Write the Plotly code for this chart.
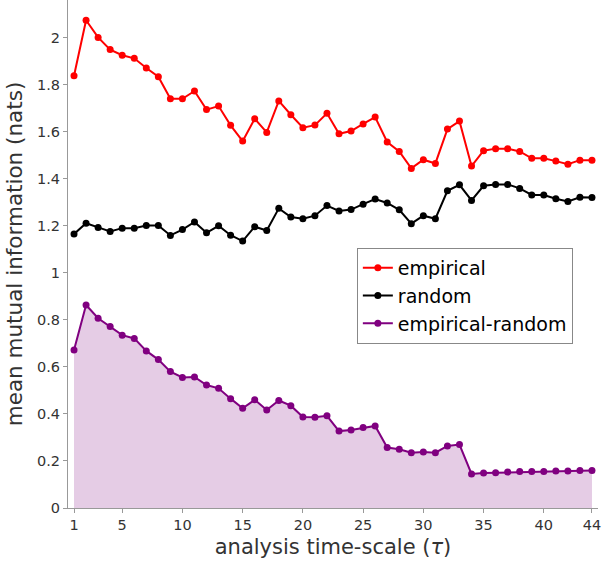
import plotly.graph_objects as go

tau = list(range(1, 45))

empirical = [1.838, 2.074, 2.001, 1.949, 1.925, 1.912, 1.871, 1.834, 1.740, 1.740,
             1.773, 1.694, 1.709, 1.627, 1.560, 1.655, 1.597, 1.731, 1.672, 1.617,
             1.628, 1.678, 1.591, 1.603, 1.633, 1.662, 1.556, 1.516, 1.444, 1.481,
             1.465, 1.611, 1.645, 1.454, 1.519, 1.528, 1.528, 1.516, 1.487, 1.487,
             1.475, 1.462, 1.479, 1.479]

random_mi = [1.165, 1.211, 1.193, 1.176, 1.190, 1.190, 1.201, 1.201, 1.159, 1.184,
             1.216, 1.170, 1.200, 1.160, 1.135, 1.196, 1.180, 1.274, 1.237, 1.230,
             1.243, 1.286, 1.263, 1.269, 1.292, 1.314, 1.297, 1.268, 1.209, 1.243,
             1.230, 1.349, 1.374, 1.308, 1.370, 1.376, 1.376, 1.359, 1.331, 1.331,
             1.315, 1.303, 1.321, 1.320]

emp_minus_rand = [0.672, 0.863, 0.807, 0.772, 0.735, 0.721, 0.668, 0.631, 0.580, 0.555,
                  0.557, 0.523, 0.509, 0.465, 0.424, 0.460, 0.417, 0.457, 0.435, 0.387,
                  0.386, 0.392, 0.327, 0.332, 0.342, 0.349, 0.257, 0.250, 0.235, 0.238,
                  0.235, 0.264, 0.270, 0.145, 0.149, 0.150, 0.153, 0.155, 0.155, 0.155,
                  0.157, 0.157, 0.159, 0.159]

x_ticks = [1, 5, 10, 15, 20, 25, 30, 35, 40, 44]
y_ticks = [0, 0.2, 0.4, 0.6, 0.8, 1, 1.2, 1.4, 1.6, 1.8, 2]
y_labels = ["0", "0.2", "0.4", "0.6", "0.8", "1", "1.2", "1.4", "1.6", "1.8", "2"]

fig = go.Figure()
# shaded area under the difference curve, kept out of the legend
fig.add_trace(go.Scatter(x=tau, y=emp_minus_rand, mode="lines", showlegend=False,
                         line=dict(width=0, color="rgb(229,204,229)"),
                         fill="tozeroy", fillcolor="rgb(229,204,229)", hoverinfo="skip"))
fig.add_trace(go.Scatter(x=tau, y=empirical, mode="lines+markers", name="empirical",
                         line=dict(color="#ff0000", width=2), marker=dict(size=7)))
fig.add_trace(go.Scatter(x=tau, y=random_mi, mode="lines+markers", name="random",
                         line=dict(color="#000000", width=2), marker=dict(size=7)))
fig.add_trace(go.Scatter(x=tau, y=emp_minus_rand, mode="lines+markers", name="empirical-random",
                         line=dict(color="#800080", width=2), marker=dict(size=7)))

fig.update_layout(
    width=607, height=562,
    margin=dict(l=68, r=9, t=0, b=54),
    plot_bgcolor="white", paper_bgcolor="white",
    font=dict(family="DejaVu Sans", color="#333333"),
    legend=dict(x=0.545, y=0.512, xanchor="left", yanchor="top", itemwidth=30,
                bordercolor="#888888", borderwidth=1, bgcolor="white",
                font=dict(size=19, color="black"), tracegroupgap=0),
    xaxis=dict(range=[0.5, 44.5], tickvals=x_ticks, showgrid=False, zeroline=False,
               showline=True, linecolor="#999999", ticks="outside", ticklen=4,
               tickcolor="#999999", tickfont=dict(size=14.5), automargin=False,
               title=dict(text="analysis time-scale (<i>τ</i>)", font=dict(size=21), standoff=6)),
    yaxis=dict(range=[0, 2.16], tickvals=y_ticks, ticktext=y_labels, showgrid=False,
               zeroline=False, showline=True, linecolor="#999999", ticks="outside",
               ticklen=4, tickcolor="#999999", tickfont=dict(size=14.5), automargin=False,
               title=dict(text="mean mutual information (nats)", font=dict(size=21.5), standoff=8)),
)

# drop the default page margin so the 607x562 figure fills the window exactly
fig.write_html("out.html", config={"displayModeBar": False},
               post_script="document.body.style.margin='0';")
